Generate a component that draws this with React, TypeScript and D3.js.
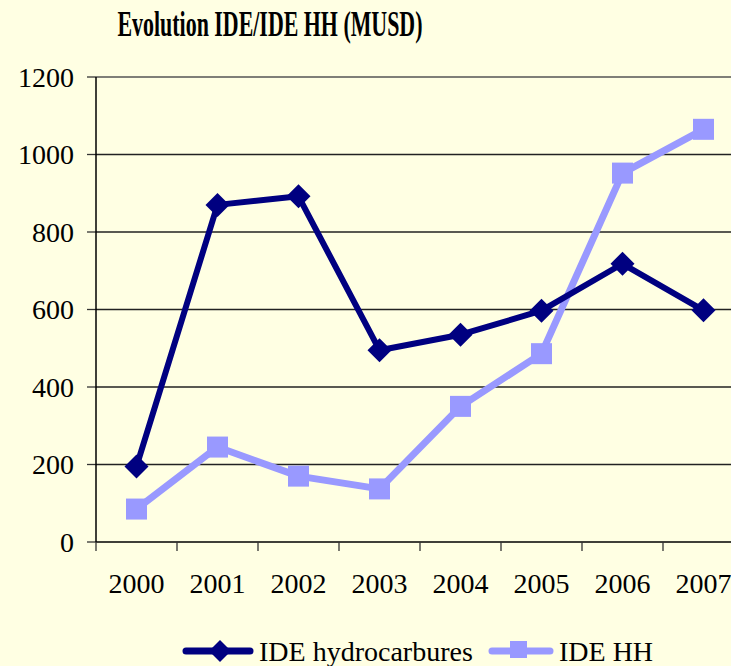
import React from 'react';
import * as d3 from 'd3';

// values (MUSD)
const years = ['2000', '2001', '2002', '2003', '2004', '2005', '2006', '2007'];
const ideHydro = [195, 870, 892, 495, 535, 597, 718, 598];
const ideHH = [85, 245, 170, 137, 350, 486, 952, 1065];
const yTicks = [0, 200, 400, 600, 800, 1000, 1200];

const W = 731;
const H = 666;
const plot = {left: 96, right: 744, top: 77, bottom: 542};
const serif = {fontFamily: 'Liberation Serif, DejaVu Serif, serif'};
const dark = '#000080';
const light = '#9999FF';

function App() {
    const x = d3.scaleBand().domain(years).range([plot.left, plot.right]);
    const y = d3.scaleLinear().domain([0, 1200]).range([plot.bottom, plot.top]);
    const cx = (d: string) => (x(d) as number) + x.bandwidth() / 2;

    const line = d3
        .line<number>()
        .x((_, i) => cx(years[i]))
        .y((d) => y(d));

    const diamond = (px: number, py: number, r: number) =>
        `M${px},${py - r}L${px + r},${py}L${px},${py + r}L${px - r},${py}Z`;

    const bounds = years.map((d) => x(d) as number).concat([plot.right]);

    return (
        <div style={{position: 'fixed', left: 0, top: 0}}>
            <svg width={W} height={H} style={{display: 'block', background: '#FFFFE3', ...serif}}>
                <text x={270} y={36} textAnchor="middle" fontWeight="bold" style={serif}
                      fontSize={35} textLength={305} lengthAdjust="spacingAndGlyphs">
                    Evolution IDE/IDE HH (MUSD)
                </text>

                {/* gridlines + y ticks */}
                {yTicks.map((t) => (
                    <g key={t}>
                        {t > 0 && (
                            <line x1={plot.left} x2={plot.right} y1={y(t)} y2={y(t)}
                                  stroke={t === 1200 ? '#555' : '#222'} strokeWidth={1.3}/>
                        )}
                        <line x1={plot.left - 9} x2={plot.left} y1={y(t)} y2={y(t)} stroke="#333" strokeWidth={1.3}/>
                        <text x={74} y={y(t)} dy="0.34em" textAnchor="end" style={serif} fontSize={28}>
                            {t}
                        </text>
                    </g>
                ))}

                {/* axes */}
                <line x1={plot.left} x2={plot.left} y1={plot.top} y2={plot.bottom} stroke="#000" strokeWidth={1.5}/>
                <line x1={plot.left} x2={plot.right} y1={plot.bottom} y2={plot.bottom} stroke="#000" strokeWidth={1.5}/>
                {bounds.map((b, i) => (
                    <line key={i} x1={b} x2={b} y1={plot.bottom} y2={plot.bottom + 9} stroke="#333" strokeWidth={1.3}/>
                ))}
                {years.map((d) => (
                    <text key={d} x={cx(d)} y={593} textAnchor="middle" style={serif} fontSize={28}>
                        {d}
                    </text>
                ))}

                {/* IDE HH */}
                <path d={line(ideHH) as string} fill="none" stroke={light} strokeWidth={7} strokeLinejoin="round"/>
                {ideHH.map((v, i) => (
                    <rect key={i} x={cx(years[i]) - 10.5} y={y(v) - 10.5} width={21} height={21} fill={light}/>
                ))}

                {/* IDE hydrocarbures */}
                <path d={line(ideHydro) as string} fill="none" stroke={dark} strokeWidth={6} strokeLinejoin="round"/>
                {ideHydro.map((v, i) => (
                    <path key={i} d={diamond(cx(years[i]), y(v), 12)} fill={dark}/>
                ))}

                {/* legend */}
                <line x1={186} x2={250} y1={651} y2={651} stroke={dark} strokeWidth={7} strokeLinecap="round"/>
                <path d={diamond(220, 651, 11)} fill={dark}/>
                <text x={259} y={661} style={serif} fontSize={28}>IDE hydrocarbures</text>
                <line x1={492} x2={550} y1={651} y2={651} stroke={light} strokeWidth={7} strokeLinecap="round"/>
                <rect x={510} y={641} width={17} height={17} fill={light}/>
                <text x={559} y={661} style={serif} fontSize={28}>IDE HH</text>
            </svg>
        </div>
    );
}

export default App;
